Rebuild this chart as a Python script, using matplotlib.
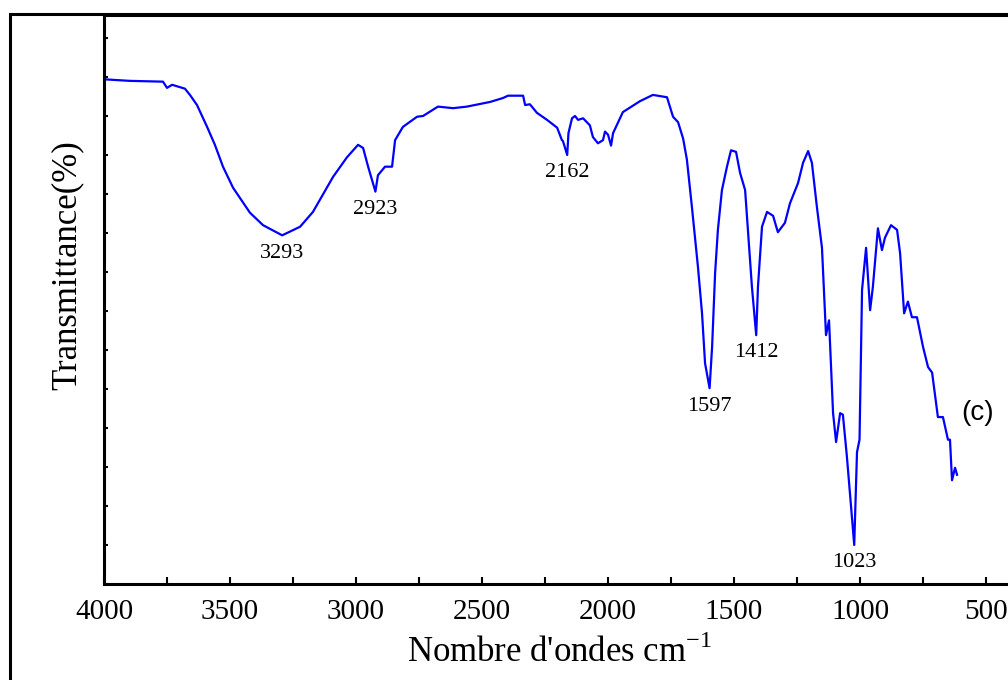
import matplotlib
matplotlib.use("Agg")
import matplotlib.pyplot as plt
from matplotlib.patches import Rectangle
from matplotlib.ticker import MultipleLocator, NullFormatter

# FTIR spectrum, wavenumber (cm-1) vs transmittance (%)
wavenumber = [4000, 3897, 3766, 3750, 3730, 3679, 3659, 3631, 3591, 3560,
              3528, 3488, 3421, 3369, 3293, 3222, 3171, 3091, 3036, 2992,
              2972, 2952, 2923, 2913, 2885, 2857, 2845, 2814, 2758, 2734,
              2675, 2615, 2560, 2468, 2417, 2397, 2337, 2329, 2310, 2282,
              2242, 2202, 2183, 2179, 2162, 2157, 2143, 2131, 2119, 2099,
              2072, 2060, 2040, 2020, 2012, 2000, 1988, 1980, 1941, 1873,
              1822, 1766, 1742, 1722, 1702, 1687, 1667, 1655, 1643, 1627,
              1615, 1597, 1587, 1575, 1564, 1548, 1528, 1512, 1492, 1476,
              1456, 1445, 1429, 1412, 1405, 1389, 1369, 1345, 1326, 1298,
              1278, 1246, 1226, 1206, 1191, 1171, 1151, 1135, 1123, 1107,
              1095, 1079, 1068, 1052, 1023, 1012, 1002, 992, 976, 960,
              949, 929, 913, 901, 877, 853, 841, 825, 810, 794,
              774, 750, 730, 714, 691, 671, 651, 643, 635, 623, 615]
transmittance = [64.7, 64.5, 64.4, 63.6, 64.0, 63.5, 62.7, 61.4, 58.6, 56.3,
                 53.5, 50.8, 47.6, 46.0, 44.7, 45.8, 47.7, 52.2, 54.7, 56.3,
                 55.9, 53.5, 50.3, 52.4, 53.5, 53.5, 56.9, 58.6, 59.9, 60.0,
                 61.2, 61.0, 61.2, 61.8, 62.3, 62.6, 62.6, 61.4, 61.5, 60.4,
                 59.5, 58.5, 56.9, 56.8, 55.0, 57.8, 59.7, 60.0, 59.5, 59.7,
                 58.8, 57.3, 56.5, 56.9, 58.0, 57.6, 56.2, 57.8, 60.5, 61.9,
                 62.7, 62.4, 59.9, 59.2, 57.1, 54.4, 48.3, 44.5, 40.6, 34.7,
                 28.3, 25.1, 30.4, 39.9, 45.4, 50.5, 53.5, 55.6, 55.4, 52.7,
                 50.5, 45.4, 38.1, 31.9, 38.1, 45.8, 47.7, 47.2, 45.1, 46.3,
                 48.8, 51.4, 54.0, 55.5, 54.0, 48.3, 43.1, 31.9, 33.8, 21.9,
                 18.2, 21.9, 21.7, 16.3, 5.0, 16.9, 18.5, 37.7, 43.1, 35.1,
                 38.1, 45.6, 42.8, 44.4, 46.0, 45.4, 42.4, 34.7, 36.2, 34.2,
                 34.2, 30.4, 27.8, 27.1, 21.4, 21.4, 18.5, 18.5, 13.3, 14.9, 14.0]

peak_labels = [3293, 2923, 2162, 1597, 1412, 1023]

fig = plt.figure(figsize=(10.08, 6.8), dpi=100)
ax = fig.add_axes([0.1032, 0.1412, 0.900, 0.8368])

ax.plot(wavenumber, transmittance, color="#0000ff", lw=1.6)

ax.set_xlim(4000, 400)
ax.set_ylim(0, 72.95)
ax.xaxis.set_major_locator(MultipleLocator(500))
ax.xaxis.set_minor_locator(MultipleLocator(250))
ax.yaxis.set_major_locator(MultipleLocator(5))
ax.yaxis.set_major_formatter(NullFormatter())
ax.tick_params(axis="x", which="major", direction="in", length=5, width=1.5,
               pad=11, labelsize=21)
ax.tick_params(axis="x", which="minor", direction="in", length=5, width=1.5)
ax.tick_params(axis="y", direction="in", length=3, width=1.5)
for lab in ax.get_xticklabels():
    lab.set_family("Liberation Serif")
for side in ["left", "bottom", "top", "right"]:
    ax.spines[side].set_linewidth(2.2)

ax.set_xlabel("Nombre d'ondes cm$^{\\mathregular{-1}}$", family="Liberation Serif",
              fontsize=25)
ax.xaxis.set_label_coords(0.502, -0.09)
ax.set_ylabel("Transmittance(%)", family="Liberation Serif", fontsize=25)
ax.yaxis.set_label_coords(-0.023, 0.56)

# peak annotations just below each minimum
for p in peak_labels:
    t = transmittance[wavenumber.index(p)]
    ax.annotate(str(p), (p, t), xytext=(0, -6), textcoords="offset points",
                ha="center", va="top", family="Liberation Serif", fontsize=16)

fig.text(0.970, 0.393, "(c)", family="Liberation Sans",
         fontsize=20, ha="center", va="center")

# outer frame
fig.patches.append(Rectangle((10 / 1008, -0.1), 1.2, 0.1 + 666 / 680,
                             transform=fig.transFigure, fill=False,
                             lw=2.2, edgecolor="black"))

fig.savefig("out.png", dpi=100)
